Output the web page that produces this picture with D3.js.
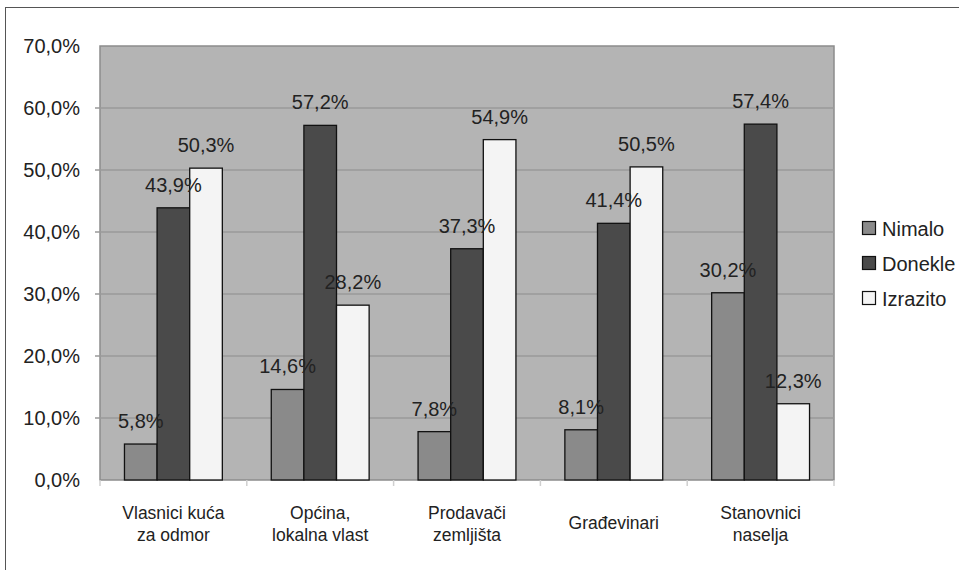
<!DOCTYPE html>
<html>
<head>
<meta charset="utf-8">
<script src="https://cdn.jsdelivr.net/npm/d3@7"></script>
<style>
  html, body { margin: 0; padding: 0; background: #ffffff; }
  svg { display: block; font-family: "Liberation Sans", Arial, sans-serif; }
</style>
</head>
<body>
<svg id="chart" width="959" height="570"></svg>
<script>
const categories = [
  ["Vlasnici kuća", "za odmor"],
  ["Općina,", "lokalna vlast"],
  ["Prodavači", "zemljišta"],
  ["Građevinari"],
  ["Stanovnici", "naselja"]
];
const seriesNames = ["Nimalo", "Donekle", "Izrazito"];
const nimalo   = [5.8, 14.6, 7.8, 8.1, 30.2];
const donekle  = [43.9, 57.2, 37.3, 41.4, 57.4];
const izrazito = [50.3, 28.2, 54.9, 50.5, 12.3];
const yTicks = [0, 10, 20, 30, 40, 50, 60, 70];
const seriesColors = ["#8a8a8a", "#4a4a4a", "#f4f4f4"];

const series = [nimalo, donekle, izrazito];
const fmt = v => v.toFixed(1).replace(".", ",") + "%";

const svg = d3.select("#chart");
const plot = { left: 100, top: 46, right: 834, bottom: 480 };

// outer frame
svg.append("rect")
  .attr("x", 5.5).attr("y", 7.5).attr("width", 1000).attr("height", 700)
  .attr("fill", "none").attr("stroke", "#555").attr("stroke-width", 1);

const x0 = d3.scaleBand().domain(d3.range(categories.length))
  .range([plot.left, plot.right]).paddingInner(0).paddingOuter(0);
const x1 = d3.scaleBand().domain(d3.range(series.length))
  .range([0, x0.bandwidth()]).paddingInner(0).paddingOuter(0.75);
const y = d3.scaleLinear().domain([0, 70]).range([plot.bottom, plot.top]);

// plot background
svg.append("rect")
  .attr("x", plot.left).attr("y", plot.top)
  .attr("width", plot.right - plot.left).attr("height", plot.bottom - plot.top)
  .attr("fill", "#b4b4b4").attr("stroke", "#8c8c8c").attr("stroke-width", 1.5);

// gridlines
svg.append("g").selectAll("line").data(yTicks.filter(t => t > 0 && t < 70)).join("line")
  .attr("x1", plot.left - 5).attr("x2", plot.right)
  .attr("y1", d => y(d)).attr("y2", d => y(d))
  .attr("stroke", "#9a9a9a").attr("stroke-width", 1.5);

// y axis labels
svg.append("g").selectAll("text").data(yTicks).join("text")
  .attr("x", 80).attr("y", d => y(d) + 7)
  .attr("text-anchor", "end").attr("font-size", 20).attr("fill", "#222")
  .text(d => d.toFixed(1).replace(".", ",") + "%");

// x tick marks at category boundaries
svg.append("g").selectAll("line").data(d3.range(categories.length + 1)).join("line")
  .attr("x1", i => plot.left + i * x0.step()).attr("x2", i => plot.left + i * x0.step())
  .attr("y1", plot.bottom).attr("y2", plot.bottom + 6)
  .attr("stroke", "#cfcfcf").attr("stroke-width", 1.5);

// bars
const groups = svg.append("g").selectAll("g").data(categories).join("g")
  .attr("transform", (d, i) => `translate(${x0(i)},0)`);

groups.each(function(cat, ci) {
  const g = d3.select(this);
  series.forEach((s, si) => {
    const v = s[ci];
    g.append("rect")
      .attr("x", x1(si)).attr("y", y(v))
      .attr("width", x1.bandwidth()).attr("height", y(0) - y(v))
      .attr("fill", seriesColors[si]).attr("stroke", "#111").attr("stroke-width", 1.3);
  });
  series.forEach((s, si) => {
    const v = s[ci];
    g.append("text")
      .attr("x", x1(si) + x1.bandwidth() / 2).attr("y", y(v) - 16)
      .attr("text-anchor", "middle").attr("font-size", 20).attr("fill", "#222")
      .text(fmt(v));
  });
  // category label
  const t = g.append("text")
    .attr("text-anchor", "middle").attr("font-size", 17.5).attr("fill", "#222");
  const lines = cat;
  const startY = lines.length === 1 ? 529 : 519;
  lines.forEach((ln, li) => {
    t.append("tspan").attr("x", x0.bandwidth() / 2).attr("y", startY + li * 22).text(ln);
  });
});

// legend
const legend = svg.append("g").selectAll("g").data(seriesNames).join("g")
  .attr("transform", (d, i) => `translate(862, ${228 + i * 35})`);
legend.append("rect")
  .attr("x", 0.5).attr("y", -6.5).attr("width", 13).attr("height", 13)
  .attr("fill", (d, i) => seriesColors[i]).attr("stroke", "#111").attr("stroke-width", 1.2);
legend.append("text")
  .attr("x", 20).attr("y", 7.5).attr("font-size", 20).attr("fill", "#222")
  .text(d => d);
</script>
</body>
</html>
